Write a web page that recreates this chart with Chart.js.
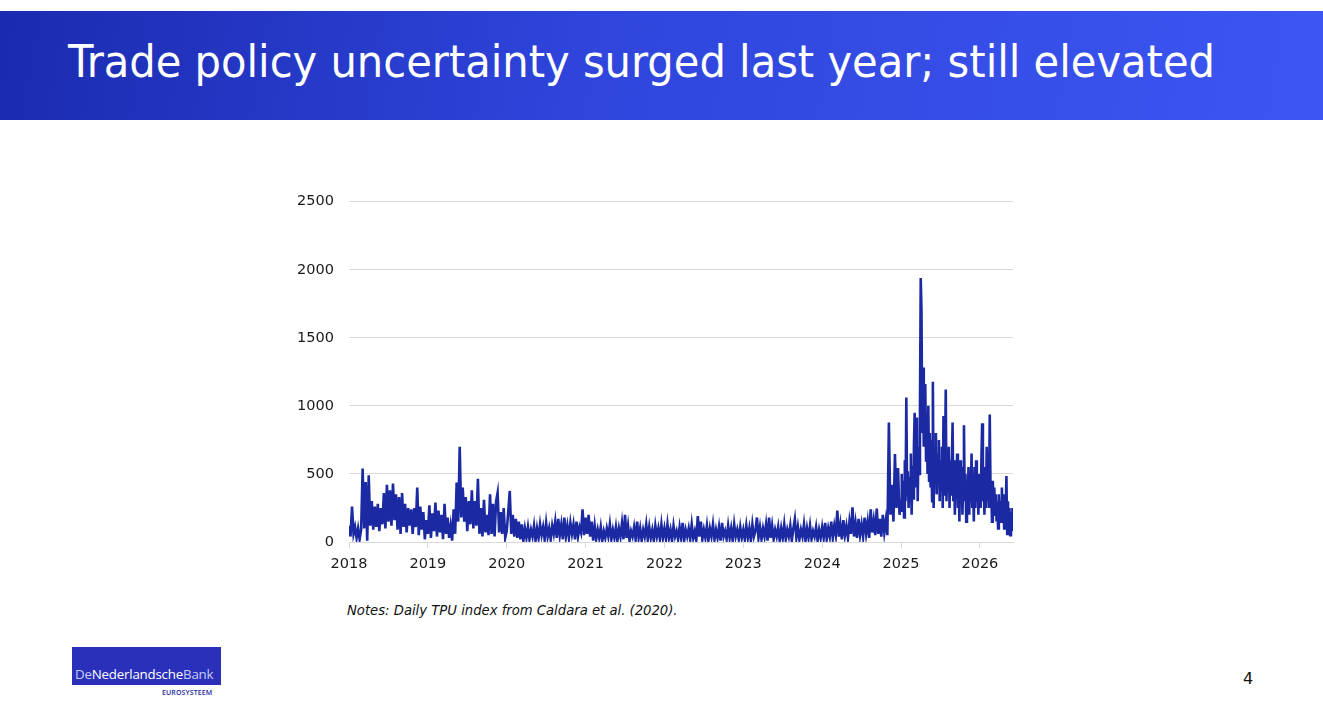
<!DOCTYPE html>
<html>
<head>
<meta charset="utf-8">
<script src="https://cdn.jsdelivr.net/npm/chart.js@4/dist/chart.umd.min.js"></script>
<style>
  html, body { margin: 0; padding: 0; background: #ffffff; width: 1323px; height: 717px; overflow: hidden; position: relative; font-family: "DejaVu Sans", Verdana, sans-serif; }
  #titlebar { position: absolute; left: 0; top: 11px; width: 1323px; height: 109px; background: linear-gradient(100deg, #1b2bb0 0%, #2f45dc 45%, #3d56f2 100%); }
  #title { position: absolute; left: 68px; top: 29px; color: #ffffff; font-family: "DejaVu Sans Condensed", "DejaVu Sans", sans-serif; font-size: 44px; white-space: nowrap; transform-origin: 0 0; line-height: 1; }
  #chartwrap { position: absolute; left: 280px; top: 178px; width: 750px; height: 402px; }
  #notes { position: absolute; left: 347px; top: 603px; font-size: 13.2px; font-style: italic; color: #111; white-space: nowrap; }
  #logo { position: absolute; left: 72px; top: 647px; width: 149px; height: 38px; background: #2b30bb; }
  #logotext { position: absolute; left: 3px; top: 18px; font-family: "Open Sans", "DejaVu Sans", sans-serif; font-size: 13.3px; color: #fff; white-space: nowrap; letter-spacing: -0.2px; }
  #logotext .l { color: #c3cdf5; }
  #euro { position: absolute; left: 162px; top: 688px; font-family: "Open Sans", sans-serif; font-size: 7px; font-weight: 600; color: #232a9a; letter-spacing: 0.1px; }
  #page { position: absolute; left: 1243px; top: 669px; font-size: 16px; color: #111; }
</style>
</head>
<body>
<div id="titlebar"><div id="title">Trade policy uncertainty surged last year; still elevated</div></div>
<div id="chartwrap"><canvas id="c" width="750" height="402"></canvas></div>
<div id="notes">Notes: Daily TPU index from Caldara et al. (2020).</div>
<div id="logo"><div id="logotext"><span class="l">De</span>Nederlandsche<span class="l">Bank</span></div></div>
<div id="euro">EUROSYSTEEM</div>
<div id="page">4</div>
<script>
// ---- Data (TPU index levels) ----
const years = [2018, 2019, 2020, 2021, 2022, 2023, 2024, 2025, 2026];
const samplesPerYear = [52, 52, 52, 52, 52, 52, 52, 104, 104];
const tickLabels = ['2018', '2019', '2020', '2021', '2022', '2023', '2024', '2025', '2026'];
const yTicks = [0, 500, 1000, 1500, 2000, 2500];

const tpu2018 = [120,40,260,60,110,30,100,20,90,540,
                 100,440,10,490,120,300,90,260,110,280,
                 80,250,130,360,100,420,150,380,120,430,
                 160,350,90,330,60,360,110,280,70,250,
                 120,240,60,250,110,400,50,260,90,220,
                 20,160];
const tpu2019 = [60,270,30,210,80,290,40,230,70,200,
                 20,280,60,180,30,120,10,240,60,436,
                 150,700,180,400,150,330,80,300,130,380,
                 100,300,120,465,60,250,40,310,70,200,
                 50,350,60,280,40,300,363,70,220,60,
                 250,30];
const tpu2020 = [80,220,375,60,200,40,170,30,150,20,
                 130,10,100,30,110,20,90,40,120,10,
                 100,30,130,50,110,20,140,40,100,20,
                 120,60,150,30,170,50,130,20,180,40,
                 120,30,140,60,130,20,150,40,110,70,
                 240,50];
const tpu2021 = [180,60,200,40,150,10,120,20,90,30,
                 110,10,80,30,100,40,130,20,90,30,
                 110,10,100,40,140,20,200,30,120,10,
                 80,40,110,20,150,30,100,10,90,40,
                 130,20,110,30,90,10,120,40,100,20,
                 130,30];
const tpu2022 = [100,20,130,30,90,10,120,40,80,20,
                 110,30,140,10,90,40,100,20,130,30,
                 80,10,190,40,150,20,90,30,120,10,
                 100,40,130,20,90,30,110,10,140,40,
                 80,20,120,30,100,10,130,40,90,20,
                 110,30];
const tpu2023 = [90,20,120,30,100,10,130,40,80,180,
                 30,110,20,100,40,130,10,180,30,120,
                 20,90,40,110,10,100,30,130,20,90,
                 40,120,10,100,170,30,110,20,90,40,
                 130,10,100,30,120,20,80,40,110,10,
                 90,30];
const tpu2024 = [110,30,140,20,100,40,150,30,120,50,
                 230,40,130,20,160,50,120,30,150,60,
                 255,40,140,30,170,50,130,40,180,60,
                 150,30,240,70,160,50,245,60,170,40,
                 200,70,160,50,877,200,420,150,647,250,
                 544,200];
const tpu2025 = [300,500,220,450,180,600,300,1061,350,520,
                 250,480,300,650,200,560,320,700,950,400,
                 600,915,300,700,500,1000,1940,1700,800,1282,
                 700,1000,1160,600,900,500,1000,450,800,400,
                 750,300,1178,250,700,450,800,350,650,500,
                 750,300,600,400,700,250,926,350,600,1120,
                 300,650,400,700,250,600,350,550,877,300,
                 600,200,550,350,650,250,500,150,600,300,
                 550,200,450,857,300,500,150,450,250,550,
                 200,500,300,650,250,450,150,550,250,600,
                 300,500,200,450];
const tpu2026 = [500,250,600,873,300,450,200,550,250,700,
                 300,500,250,936,400,350,150,450,300,400,
                 200,350,150,300,100,350,200,300,150,400,
                 200,350,100,250,200,485,60,300,100,250,
                 50,220,80,250];

const seriesByYear = [tpu2018, tpu2019, tpu2020, tpu2021, tpu2022, tpu2023, tpu2024, tpu2025, tpu2026];

const points = [];
seriesByYear.forEach((arr, k) => {
  arr.forEach((v, i) => points.push({ x: years[k] + i / samplesPerYear[k], y: v }));
});

// Title width fit
const t = document.getElementById('title');
const tw = t.getBoundingClientRect().width;
t.style.transform = 'scaleX(' + (1147 / tw) + ')';

Chart.defaults.font.family = '"DejaVu Sans", Verdana, sans-serif';
Chart.defaults.color = '#1a1a1a';

new Chart(document.getElementById('c'), {
  type: 'line',
  data: {
    datasets: [{
      data: points,
      borderColor: '#1b2aa2',
      borderWidth: 2.6,
      pointRadius: 0,
      tension: 0,
      fill: false
    }]
  },
  options: {
    responsive: false,
    animation: false,
    parsing: false,
    layout: { padding: { top: 21, right: 17, left: 0, bottom: 0 } },
    plugins: { legend: { display: false }, tooltip: { enabled: false } },
    scales: {
      x: {
        type: 'linear',
        min: 2018,
        max: 2026.42,
        afterFit: s => { s.height = 38; },
        ticks: {
          stepSize: 1,
          includeBounds: false,
          autoSkip: false,
          maxRotation: 0,
          padding: 8,
          font: { size: 14.5 },
          color: '#1a1a1a',
          callback: v => {
            const idx = Math.round(v - 2018);
            return Math.abs(v - Math.round(v)) < 1e-6 ? tickLabels[idx] : '';
          }
        },
        grid: { drawOnChartArea: false, drawTicks: true, tickLength: 6, color: '#d9d9d9' },
        border: { display: true, color: '#d9d9d9' }
      },
      y: {
        min: 0,
        max: 2500,
        afterFit: s => { s.width = 69; },
        afterBuildTicks: s => { s.ticks = yTicks.map(v => ({ value: v })); },
        ticks: {
          padding: 15,
          font: { size: 14.5 },
          color: '#1a1a1a',
          callback: v => String(v)
        },
        grid: { color: '#d9d9d9', drawTicks: false },
        border: { display: false }
      }
    }
  }
});
</script>
</body>
</html>
